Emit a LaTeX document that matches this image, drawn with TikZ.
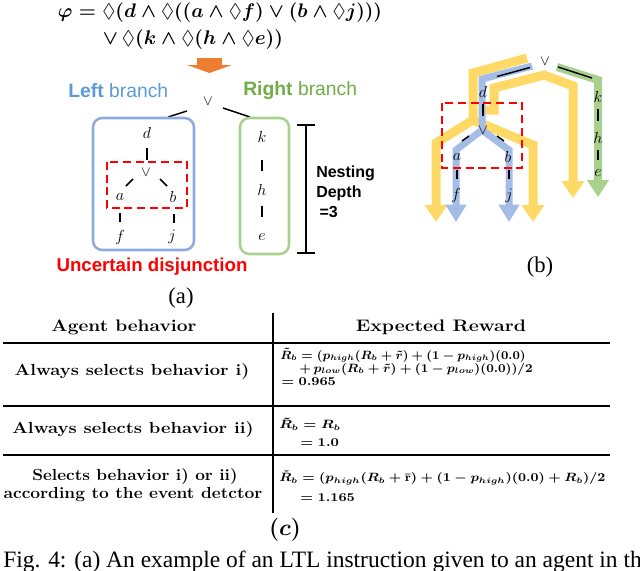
\documentclass[tikz,border=0pt]{standalone}
\usepackage{amsmath,amssymb}
\usepackage{graphicx}
\usepackage{fontspec}
\newfontfamily\arialf{Liberation Sans}
\newfontfamily\timesf{Liberation Serif}
\usetikzlibrary{arrows.meta}
\definecolor{orangeA}{HTML}{ED7D31}
\definecolor{blueT}{HTML}{5B9BD5}
\definecolor{greenT}{HTML}{70AD47}
\definecolor{blueBox}{HTML}{8FAADC}
\definecolor{greenBox}{HTML}{A9D18E}
\definecolor{yellowB}{HTML}{FFD966}
\definecolor{blueB}{HTML}{A4BDE6}
\definecolor{greenB}{HTML}{A9D18E}
\definecolor{redD}{HTML}{FF0000}
\newcommand{\wbox}[2]{\resizebox{#1}{\height}{#2}}
\tikzset{
  lt/.style={font=\fontsize{11.5}{14}\selectfont},
  orsym/.style={font=\fontsize{11}{13}\selectfont},
  lnk/.style={line width=1.1pt, black},
  boxline/.style={line width=1.9pt, rounded corners=7pt},
  reddash/.style={draw=redD, line width=1.9pt, dash pattern=on 6pt off 3.5pt},
  yband/.style={draw=yellowB, line width=6.75pt, line join=miter, -{Triangle[width=16.5pt,length=12.75pt]}},
  bband/.style={draw=blueB, line width=5.25pt, line join=miter, -{Triangle[width=15pt,length=13pt]}},
  gband/.style={draw=greenB, line width=6pt, line join=miter, -{Triangle[width=15.75pt,length=12.75pt]}},
  sublabel/.style={font=\timesf\fontsize{17}{20}\selectfont},
  tabhead/.style={font=\fontsize{12.5}{15}\selectfont\bfseries},
  tabrow/.style={font=\fontsize{12}{15}\selectfont\bfseries},
  eq/.style={anchor=west, font=\fontsize{9}{11}\selectfont\boldmath},
  rule/.style={line width=0.9pt, black},
}
\begin{document}
\begin{tikzpicture}[x=0.75pt,y=-0.75pt, every node/.style={inner sep=0pt}]
\useasboundingbox (0,0) rectangle (640,571);
% ---------- formula ----------
\node[font=\fontsize{12}{14}\selectfont\boldmath] (phi1) at (220,13)
  {\resizebox{243pt}{!}{$\varphi = \lozenge(d \wedge \lozenge((a \wedge \lozenge f) \vee (b \wedge \lozenge j)))$}};
\node[font=\fontsize{12}{14}\selectfont\boldmath] (phi2) at (193,40)
  {\resizebox{135pt}{!}{$\vee\, \lozenge(k \wedge \lozenge(h \wedge \lozenge e))$}};
\fill[orangeA] (197,58) -- (222,58) -- (222,65) -- (232,65) -- (209.5,73) -- (187,65) -- (197,65) -- cycle;
% ---------- panel (a) ----------
\node[anchor=west, text=blueT, font=\arialf\fontsize{14.5}{17}\selectfont] (lb) at (68,91) {\textbf{Left} branch};
\node[anchor=west, text=greenT, font=\arialf\fontsize{14.5}{17}\selectfont] (rb) at (243,91) {\textbf{Right} branch};
\node[orsym] (aor) at (208,101) {$\vee$};
\coordinate (aorL1) at (187,111); \coordinate (aorL2) at (168,117);
\coordinate (aorR1) at (223,108); \coordinate (aorR2) at (250,117);
\draw[lnk] (aorL1) -- (aorL2);
\draw[lnk] (aorR1) -- (aorR2);
\draw[boxline, draw=blueBox] (93,118) rectangle (194,250);
\draw[boxline, draw=greenBox] (240,118) rectangle (289,254);
\draw[reddash] (107,162) rectangle (187,208);
\node[lt] (ad) at (147,133) {$d$};
\node[orsym] (aor2) at (146,172) {$\vee$};
\node[lt] (aa) at (120,197) {$a$};
\node[lt] (ab) at (173,197) {$b$};
\node[lt] (af) at (120,237) {$f$};
\node[lt] (aj) at (172,237) {$j$};
\node[lt] (ak) at (262,137) {$k$};
\node[lt] (ah) at (262,190) {$h$};
\node[lt] (ae) at (262,237) {$e$};
\coordinate (ad1) at (147,148); \coordinate (ad2) at (147,160);
\draw[lnk] (ad1) -- (ad2);
\coordinate (ao1) at (133,179); \coordinate (ao2) at (126,186);
\draw[lnk] (ao1) -- (ao2);
\coordinate (ao3) at (160,179); \coordinate (ao4) at (167,186);
\draw[lnk] (ao3) -- (ao4);
\coordinate (aa1) at (120,213); \coordinate (aa2) at (120,222);
\draw[lnk] (aa1) -- (aa2);
\coordinate (ab1) at (174,214); \coordinate (ab2) at (174,223);
\draw[lnk] (ab1) -- (ab2);
\coordinate (ak1) at (262,160); \coordinate (ak2) at (262,171);
\draw[lnk] (ak1) -- (ak2);
\coordinate (ah1) at (262,206); \coordinate (ah2) at (262,217);
\draw[lnk] (ah1) -- (ah2);
% nesting depth bracket
\coordinate (nd1) at (306,125); \coordinate (nd2) at (306,253);
\draw[lnk] (nd1) -- (nd2);
\draw[lnk] (297,125) -- (315,125);
\draw[lnk] (297,253) -- (315,253);
\node[anchor=west, align=left, font=\arialf\bfseries\fontsize{12}{15}\selectfont] (nest) at (316,192) {Nesting\\Depth\\\hspace{2.5pt}=3};
\node[text=redD, font=\arialf\bfseries\fontsize{14}{17}\selectfont] (unc) at (152,267) {Uncertain disjunction};
\node[sublabel] (la) at (181,298) {(a)};
% ---------- panel (b) ----------
\draw[yband] (527,58) -- (473,73) -- (473,120) -- (436,143) -- (436,222);
\draw[yband] (473,120) -- (533,145) -- (533,222);
\draw[yband] (482,110) -- (494,110) -- (494,88) -- (544,75) -- (573,86) -- (573,198);
\draw[bband] (532,66) -- (482,79) -- (482,130) -- (456,150) -- (456,222);
\draw[bband] (482,130) -- (509,150) -- (509,222);
\draw[gband] (557,67) -- (598,80) -- (598,197);
\draw[reddash] (442,103) rectangle (522,168);
\node[orsym] (bor) at (545,61) {$\vee$};
\node[lt] (bd) at (483,92) {$d$};
\node[orsym] (bor2) at (483,130) {$\vee$};
\node[lt] (ba) at (457,157) {$a$};
\node[lt] (bb) at (508,157) {$b$};
\node[lt] (bf) at (456,195) {$f$};
\node[lt] (bj) at (509,196) {$j$};
\node[lt] (bk) at (598,97) {$k$};
\node[lt] (bh) at (598,138) {$h$};
\node[lt] (be) at (598,173) {$e$};
\coordinate (bo1) at (530,67.5); \coordinate (bo2) at (497,76.5);
\draw[lnk] (bo1) -- (bo2);
\coordinate (bo3) at (558,67); \coordinate (bo4) at (592,78);
\draw[lnk] (bo3) -- (bo4);
\coordinate (bd1) at (483,104); \coordinate (bd2) at (483,116);
\draw[lnk] (bd1) -- (bd2);
\coordinate (bi1) at (469,136); \coordinate (bi2) at (462,141);
\draw[lnk] (bi1) -- (bi2);
\coordinate (bi3) at (497,136); \coordinate (bi4) at (504,141);
\draw[lnk] (bi3) -- (bi4);
\coordinate (ba1) at (457,170); \coordinate (ba2) at (457,179);
\draw[lnk] (ba1) -- (ba2);
\coordinate (bb1) at (509,170); \coordinate (bb2) at (509,179);
\draw[lnk] (bb1) -- (bb2);
\coordinate (bk1) at (598,109); \coordinate (bk2) at (598,121);
\draw[lnk] (bk1) -- (bk2);
\coordinate (bh1) at (598,150); \coordinate (bh2) at (598,160);
\draw[lnk] (bh1) -- (bh2);
\node[sublabel] (lbb) at (540,267) {(b)};
% ---------- table (c) ----------
\draw[rule] (3,343) -- (610,343);
\draw[rule] (3,406) -- (610,406);
\draw[rule] (3,455) -- (610,455);
\draw[line width=1.5pt] (273,313) -- (273,513);
\node[tabhead] (th1) at (124,327) {\wbox{108.75pt}{Agent behavior}};
\node[tabhead] (th2) at (441,327) {\wbox{127.5pt}{Expected Reward}};
\node[tabrow] (r1) at (132,372) {\wbox{176pt}{Always selects behavior i)}};
\node[tabrow] (r2) at (133,430) {\wbox{181pt}{Always selects behavior ii)}};
\node[tabrow] (r3a) at (135,477) {\wbox{154pt}{Selects behavior i) or ii)}};
\node[tabrow] (r3b) at (133,495) {\wbox{194pt}{according to the event detctor}};
\node[eq] (e1a) at (280,355) {\wbox{184pt}{$\tilde{R}_b = (p_{high}(R_b + \tilde{r}) + (1 - p_{high})(0.0)$}};
\node[eq] (e1b) at (299,369) {\wbox{175pt}{$+\, p_{low}(R_b + \tilde{r}) + (1 - p_{low})(0.0))/2$}};
\node[eq] (e1c) at (281,382) {\wbox{41pt}{$= 0.965$}};
\node[eq] (e2a) at (279,424) {\wbox{46pt}{$\tilde{R}_b = R_b$}};
\node[eq] (e2b) at (300,443) {\wbox{29pt}{$= 1.0$}};
\node[eq] (e3a) at (279,478) {\wbox{244.5pt}{$\check{R}_b = (p_{high}(R_b + \bar{\mathrm{r}}) + (1 - p_{high})(0.0) + R_b)/2$}};
\node[eq] (e3b) at (300,498) {\wbox{41pt}{$= 1.165$}};
\node[font=\fontsize{17}{20}\selectfont\boldmath] (lc) at (285,530) {$(c)$};
\node[anchor=base west, font=\timesf\fontsize{17.6}{20}\selectfont] (cap) at (3,567) {Fig. 4: (a) An example of an LTL instruction given to an agent in th};
\end{tikzpicture}
\end{document}
